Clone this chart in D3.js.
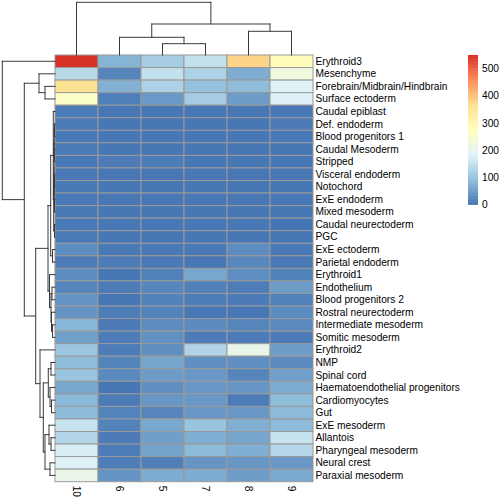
<!DOCTYPE html>
<html>
<head>
<meta charset="utf-8">
<script src="https://cdn.jsdelivr.net/npm/d3@7"></script>
<style>
  html, body { margin: 0; padding: 0; background: #fff; }
  svg { display: block; }
  text { font-family: "Liberation Sans", Arial, Helvetica, sans-serif; fill: #000; }
</style>
</head>
<body>
<svg id="chart" width="504" height="504"></svg>
<script>
// ---------------- data ----------------
const colLabels = ["10", "6", "5", "7", "8", "9"];
const rowLabels = [
  "Erythroid3", "Mesenchyme", "Forebrain/Midbrain/Hindbrain", "Surface ectoderm",
  "Caudal epiblast", "Def. endoderm", "Blood progenitors 1", "Caudal Mesoderm",
  "Stripped", "Visceral endoderm", "Notochord", "ExE endoderm", "Mixed mesoderm",
  "Caudal neurectoderm", "PGC", "ExE ectoderm", "Parietal endoderm", "Erythroid1",
  "Endothelium", "Blood progenitors 2", "Rostral neurectoderm", "Intermediate mesoderm",
  "Somitic mesoderm", "Erythroid2", "NMP", "Spinal cord", "Haematoendothelial progenitors",
  "Cardiomyocytes", "Gut", "ExE mesoderm", "Allantois", "Pharyngeal mesoderm",
  "Neural crest", "Paraxial mesoderm"
];
// one array per column (cluster), values in row order
const col10 = [550, 140, 360, 265, 10, 6, 5, 6, 4, 5, 4, 5, 4, 5, 6, 30, 8, 30, 20, 38, 36, 82, 52, 105, 88, 103, 62, 85, 87, 155, 130, 175, 180, 210];
const col6  = [ 78,  20,  75,  12,  2, 3, 2, 3, 8, 2, 2, 2, 3, 2, 2,  5, 8,  3,  8,  3, 10,  8, 10,  10, 18,  26,  3,  8, 17,  17,   8,  10,  10,  38];
const col5  = [116, 150, 125,  45,  2, 2, 3, 2, 10, 2, 2, 2, 2, 3, 2,  5, 5, 15, 22, 16, 17, 28, 34,  33, 60,  48, 33, 42, 20,  63,  52,  57,  13,  70];
const col7  = [150, 125,  95, 115,  2, 3, 2, 2, 3, 2, 3, 2, 2, 2, 3,  5, 3, 62, 15, 10,  2, 27,  8, 128, 33,  43, 43, 43, 43, 100,  72,  87,  40,  70];
const col8  = [381,  70,  88,  48,  3, 2, 3, 2, 2, 3, 2, 3, 2, 2, 2, 30, 22, 32, 10,  8,  3, 20,  9, 207, 33,  20, 41, 10, 42,  72,  60,  72,  41,  50];
const col9  = [283, 226, 182, 180,  4, 8, 4, 3, 3, 2, 3, 2, 3, 0, 2,  5, 5, 15, 48, 15, 27, 26,  8,  50, 27,  53, 70, 88, 87,  87, 155, 135,  44,  65];
const seriesByCol = { "10": col10, "6": col6, "5": col5, "7": col7, "8": col8, "9": col9 };

// dendrograms: [mergeHeight, left, right]; leaves are labels
const colTree = [52.7, "10", [31, [17.7, "6", [11.3, "5", "7"]], [23.7, "8", "9"]]];
const rowTree = [52.7, "Erythroid3",
  [30.7,
    [16, "Mesenchyme", [10, "Forebrain/Midbrain/Hindbrain", "Surface ectoderm"]],
    [19.3,
      [7,
        [4.3,
          [1.7, "Caudal epiblast",
            [1.3,
              [1.0,
                [0.8, [0.5, "Def. endoderm", "Blood progenitors 1"], [0.6, "Caudal Mesoderm", "Stripped"]],
                [0.7, [0.4, "Visceral endoderm", "Notochord"], [0.5, "ExE endoderm", "Mixed mesoderm"]]],
              [0.5, "Caudal neurectoderm", "PGC"]]],
          [2.5, "ExE ectoderm", "Parietal endoderm"]],
        [5.5, "Erythroid1",
          [4, [3, "Endothelium", "Blood progenitors 2"],
              [3.5, "Rostral neurectoderm", [2.5, "Intermediate mesoderm", "Somitic mesoderm"]]]]],
      [15, "Erythroid2",
        [11.7,
          [6.7, [4, "NMP", "Spinal cord"], [5, "Haematoendothelial progenitors", [3.5, "Cardiomyocytes", "Gut"]]],
          [10, [6, "ExE mesoderm", [4, "Allantois", "Pharyngeal mesoderm"]], [5, "Neural crest", "Paraxial mesoderm"]]]]]]];

const legendTicks = [0, 100, 200, 300, 400, 500];
const paletteColors = ["#4575B4", "#91BFDB", "#E0F3F8", "#FFFFBF", "#FEE090", "#FC8D59", "#D73027"];
const valueMin = 0, valueMax = 551;

// ---------------- layout ----------------
const svg = d3.select("#chart");
const hmLeft = 55, hmRight = 313, hmTop = 55, hmBottom = 481.7;
const fs = 10.2;

const x = d3.scaleBand().domain(colLabels).range([hmLeft, hmRight]).padding(0);
const y = d3.scaleBand().domain(rowLabels).range([hmTop, hmBottom]).padding(0);

const color = d3.scaleLinear()
  .domain(d3.range(paletteColors.length).map(i => valueMin + i * (valueMax - valueMin) / (paletteColors.length - 1)))
  .range(paletteColors)
  .interpolate(d3.interpolateRgb)
  .clamp(true);

// cells
const cells = [];
rowLabels.forEach((r, i) => colLabels.forEach(c => cells.push({ r, c, v: seriesByCol[c][i] })));

svg.append("g").selectAll("rect").data(cells).join("rect")
  .attr("x", d => x(d.c))
  .attr("y", d => y(d.r))
  .attr("width", x.bandwidth())
  .attr("height", y.bandwidth())
  .attr("fill", d => color(d.v))
  .attr("stroke", "#999999")
  .attr("stroke-width", 1);

// row labels
svg.append("g").selectAll("text").data(rowLabels).join("text")
  .attr("x", hmRight + 2.5)
  .attr("y", d => y(d) + y.bandwidth() / 2)
  .attr("dominant-baseline", "central")
  .attr("font-size", fs)
  .text(d => d);

// column labels (rotated)
svg.append("g").selectAll("text").data(colLabels).join("text")
  .attr("transform", d => `translate(${x(d) + x.bandwidth() / 2},${hmBottom + 4}) rotate(90)`)
  .attr("dominant-baseline", "central")
  .attr("font-size", fs)
  .text(d => d);

// ---------------- dendrograms ----------------
function layoutTree(node, pos) {
  if (typeof node === "string") return { h: 0, p: pos(node) };
  const a = layoutTree(node[1], pos), b = layoutTree(node[2], pos);
  return { h: node[0], p: (a.p + b.p) / 2, kids: [a, b] };
}
function segments(n, out) {
  if (!n.kids) return out;
  const [a, b] = n.kids;
  out.push({ h1: n.h, p1: a.p, h2: n.h, p2: b.p });
  out.push({ h1: n.h, p1: a.p, h2: a.h, p2: a.p });
  out.push({ h1: n.h, p1: b.p, h2: b.h, p2: b.p });
  segments(a, out); segments(b, out);
  return out;
}

// column dendrogram (top)
const colRoot = layoutTree(colTree, d => x(d) + x.bandwidth() / 2);
const colH = d3.scaleLinear().domain([0, colTree[0]]).range([hmTop, 2.3]);
svg.append("g").selectAll("line").data(segments(colRoot, [])).join("line")
  .attr("x1", d => d.p1).attr("x2", d => d.p2)
  .attr("y1", d => colH(d.h1)).attr("y2", d => colH(d.h2))
  .attr("stroke", "#3a3a3a").attr("stroke-width", 1).attr("stroke-linecap", "square");

// row dendrogram (left)
const rowRoot = layoutTree(rowTree, d => y(d) + y.bandwidth() / 2);
const rowH = d3.scaleLinear().domain([0, rowTree[0]]).range([hmLeft, 2.3]);
svg.append("g").selectAll("line").data(segments(rowRoot, [])).join("line")
  .attr("y1", d => d.p1).attr("y2", d => d.p2)
  .attr("x1", d => rowH(d.h1)).attr("x2", d => rowH(d.h2))
  .attr("stroke", "#3a3a3a").attr("stroke-width", 1).attr("stroke-linecap", "square");

// ---------------- legend ----------------
const legTop = 55, legBottom = 204.5, legX = 468, legW = 10;
const ly = d3.scaleLinear().domain([valueMin, valueMax]).range([legBottom, legTop]);
const nSteps = 100;
const steps = d3.range(nSteps).map(i => valueMin + (i + 0.5) * (valueMax - valueMin) / nSteps);
const stepH = (legBottom - legTop) / nSteps;
svg.append("g").selectAll("rect").data(steps).join("rect")
  .attr("x", legX)
  .attr("y", d => ly(d) - stepH / 2)
  .attr("width", legW)
  .attr("height", stepH + 0.4)
  .attr("fill", d => color(d));

svg.append("g").selectAll("text").data(legendTicks).join("text")
  .attr("x", legX + legW + 4)
  .attr("y", d => ly(d))
  .attr("dominant-baseline", "central")
  .attr("font-size", fs)
  .text(d => d);
</script>
</body>
</html>
